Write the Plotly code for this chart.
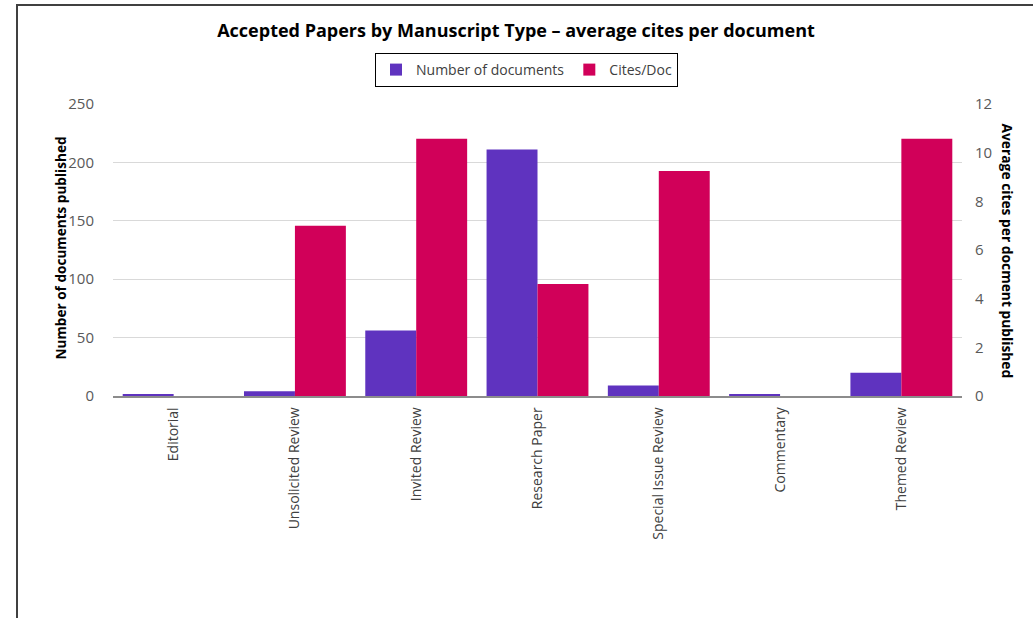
import plotly.graph_objects as go

categories = ["Editorial", "Unsolicited Review", "Invited Review", "Research Paper",
              "Special Issue Review", "Commentary", "Themed Review"]
num_documents = [1, 4, 56, 211, 9, 1, 20]
cites_per_doc = [0, 7.0, 10.57, 4.6, 9.25, 0, 10.57]

left_ticks = [0, 50, 100, 150, 200, 250]
right_ticks = [0, 2, 4, 6, 8, 10, 12]

PURPLE = "#5f33bf"
CRIMSON = "#d10059"
FONT = "Open Sans"

L, R, T, B = 113, 71, 104, 222
PW, PH = 1033 - L - R, 618 - T - B

def px_x(p):
    return (p - L) / PW

def px_y(p):
    return 1 - (p - T) / PH

fig = go.Figure()
fig.add_trace(go.Bar(x=categories, y=num_documents, name="Number of documents",
                     marker=dict(color=PURPLE, line=dict(width=0)),
                     offsetgroup="a", yaxis="y"))
fig.add_trace(go.Bar(x=categories, y=cites_per_doc, name="Cites/Doc",
                     marker=dict(color=CRIMSON, line=dict(width=0)),
                     offsetgroup="b", yaxis="y2"))

fig.update_layout(
    width=1033, height=618,
    margin=dict(l=L, r=R, t=T, b=B),
    paper_bgcolor="white", plot_bgcolor="white",
    font=dict(family=FONT, size=13, color="#595959"),
    barmode="group", bargap=0.16, bargroupgap=0,
    title=dict(text="<b>Accepted Papers by Manuscript Type – average cites per document</b>",
               x=516 / 1033, xanchor="center", y=1 - 31 / 618, yanchor="middle",
               font=dict(family=FONT, size=18, color="black")),
    showlegend=True,
    legend=dict(orientation="h", x=px_x(375), xanchor="left", y=px_y(53), yanchor="top",
                bordercolor="black", borderwidth=1, bgcolor="white",
                font=dict(family=FONT, size=14, color="#404040"),
                itemwidth=30, traceorder="normal"),
    xaxis=dict(tickangle=-90, showgrid=False, showline=True, linecolor="#8c8c8c",
               linewidth=1.5, ticks="", tickfont=dict(size=14, color="#404040"),
               ticklabelstandoff=4),
    yaxis=dict(range=[0, 250], tickvals=left_ticks, showgrid=True, gridcolor="#d9d9d9",
               zeroline=False, showline=False, ticks="", ticklabelstandoff=18,
               tickfont=dict(size=15, color="#595959")),
    yaxis2=dict(range=[0, 12], tickvals=right_ticks, overlaying="y", side="right",
                showgrid=False, zeroline=False, showline=False, ticks="",
                ticklabelstandoff=12, tickfont=dict(size=15, color="#595959")),
)

fig.add_annotation(text="<b>Number of documents published</b>", xref="paper", yref="paper",
                   x=px_x(48), y=px_y(248), textangle=-90,
                   showarrow=False, font=dict(family=FONT, size=13.6, color="black"))
fig.add_annotation(text="<b>Average cites per docment published</b>", xref="paper", yref="paper",
                   x=px_x(1019), y=px_y(251), textangle=90,
                   showarrow=False, font=dict(family=FONT, size=13.8, color="black"))

# outer chart frame
fig.add_shape(type="rect", xref="paper", yref="paper",
              x0=px_x(17), x1=1.3, y0=-1.5, y1=px_y(5),
              line=dict(color="#404040", width=2), fillcolor="rgba(0,0,0,0)", layer="below")

fig.write_html("out.html", config={"displayModeBar": False},
               post_script="document.body.style.margin='0';")
